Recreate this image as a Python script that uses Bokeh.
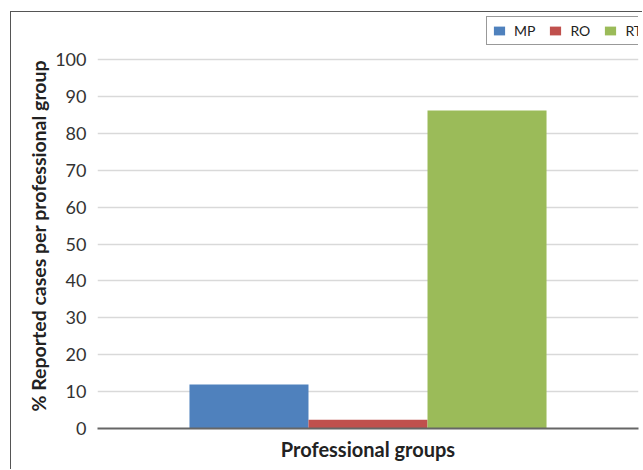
from bokeh.plotting import figure
from bokeh.models import FactorRange, Range1d, Legend, LegendItem, Title
from bokeh.transform import dodge
from bokeh.embed import file_html
from bokeh.resources import INLINE

category = ["Professional groups"]
groups = ["MP", "RO", "RT"]
values = [11.9, 2.4, 86.2]
colors = ["#4F81BD", "#C0504D", "#9BBB59"]
y_ticks = [0, 10, 20, 30, 40, 50, 60, 70, 80, 90, 100]
y_label = "% Reported cases per professional group"
x_label = "Professional groups"

FONT = "Lato"

p = figure(width=632, height=458, x_range=FactorRange(*category, range_padding=0),
           y_range=Range1d(0, 112.2), output_backend="svg", toolbar_location=None,
           min_border_left=86, min_border_right=5, min_border_top=2, min_border_bottom=42,
           margin=(11, 0, 0, 10))
p.styles = {"border-left": "1px solid #555555", "border-top": "1px solid #555555"}
p.outline_line_color = None
p.background_fill_color = "white"
p.border_fill_color = "white"

bar_w = 0.22
items = []
for i, (g, v, c) in enumerate(zip(groups, values, colors)):
    r = p.vbar(x=dodge("cat", (i - 1) * bar_w, range=p.x_range), top="v", width=bar_w,
               source={"cat": category, "v": [v]}, color=c, line_color=None)
    items.append(LegendItem(label=g, renderers=[r]))

legend = Legend(items=items, orientation="horizontal", location=(389, 383),
                glyph_width=14, glyph_height=11, label_standoff=8, spacing=13,
                padding=5, margin=0, label_text_font=FONT, label_text_font_size="14px",
                label_text_color="#222222", border_line_color="#333333", border_line_width=1,
                background_fill_alpha=1)
p.add_layout(legend, "center")

p.xgrid.grid_line_color = None
p.ygrid.grid_line_color = "#d9d9d9"
p.ygrid.grid_line_width = 1.5

p.yaxis.ticker = y_ticks
p.yaxis.axis_line_color = None
p.yaxis.major_tick_line_color = None
p.yaxis.minor_tick_line_color = None
p.yaxis.major_label_text_font = FONT
p.yaxis.major_label_text_font_size = "18px"
p.yaxis.major_label_text_color = "#333333"
p.yaxis.major_label_standoff = 5

ytitle = Title(text=y_label, align="left", offset=17, standoff=6,
               text_font=FONT, text_font_size="19.5px", text_font_style="bold",
               text_color="#222222")
p.add_layout(ytitle, "left")

p.xaxis.axis_line_color = "#666666"
p.xaxis.axis_line_width = 2
p.xaxis.major_tick_line_color = None
p.xaxis.minor_tick_line_color = None
p.xaxis.major_label_text_font_size = "0px"
p.xaxis.major_label_standoff = 0
p.xaxis.axis_label = x_label
p.xaxis.axis_label_text_font = FONT
p.xaxis.axis_label_text_font_size = "20px"
p.xaxis.axis_label_text_font_style = "bold"
p.xaxis.axis_label_text_color = "#222222"
p.xaxis.axis_label_standoff = 2

open("out.html", "w").write(file_html(p, INLINE))
